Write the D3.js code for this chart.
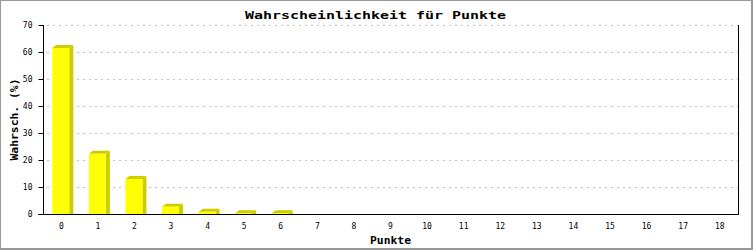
<!DOCTYPE html>
<html>
<head>
<meta charset="utf-8">
<script src="https://cdn.jsdelivr.net/npm/d3@7"></script>
<style>
html,body{margin:0;padding:0;background:#fff;}
svg{display:block;}
</style>
</head>
<body>
<svg id="chart" width="753" height="250"></svg>
<script>
const categories = ["0","1","2","3","4","5","6","7","8","9","10","11","12","13","14","15","16","17","18"];
const values = [61.5, 22.3, 13.0, 2.7, 0.8, 0.25, 0.25, 0, 0, 0, 0, 0, 0, 0, 0, 0, 0, 0, 0];
const yTicks = [0, 10, 20, 30, 40, 50, 60, 70];
const chartTitle = "Wahrscheinlichkeit für Punkte";
const xTitle = "Punkte";
const yTitle = "Wahrsch. (%)";

(function(){
const W = 753, H = 250;
const pLeft = 43, pRight = 738, pTop = 25, pBottom = 214;
const depthX = 4, depthY = 3;
const svg = d3.select("#chart");
const mono = "'DejaVu Sans Mono', 'Liberation Mono', monospace";

// frame
svg.append("rect").attr("x",0).attr("y",0).attr("width",W).attr("height",H).attr("fill","#999");
svg.append("rect").attr("x",1).attr("y",1).attr("width",W-3).attr("height",H-3).attr("fill","#fff");

const x = d3.scaleBand().domain(categories).range([pLeft, pRight]).paddingInner(0.535).paddingOuter(0.2675);
const y = d3.scaleLinear().domain([0, 70]).range([pBottom, pTop]);

// gridlines
svg.append("g").selectAll("line").data(yTicks.filter(t => t > 0)).join("line")
  .attr("x1", pLeft + 4).attr("x2", pRight)
  .attr("y1", d => Math.round(y(d)) + 0.5).attr("y2", d => Math.round(y(d)) + 0.5)
  .attr("stroke", "#c0c0c0").attr("stroke-width", 1).attr("stroke-dasharray", "2,4");

// bars
const bars = svg.append("g");
categories.forEach((c, i) => {
  const v = values[i];
  if (v <= 0) return;
  const x0 = x(c) - 0.5, w = x.bandwidth();
  const yt = y(v), yb = y(0);
  bars.append("polygon")
    .attr("points", [[x0+w, yt],[x0+w+depthX, yt-depthY],[x0+w+depthX, yb],[x0+w, yb]].map(p=>p.join(",")).join(" "))
    .attr("fill", "#cccc00");
  bars.append("polygon")
    .attr("points", [[x0, yt],[x0+depthX, yt-depthY],[x0+w+depthX, yt-depthY],[x0+w, yt]].map(p=>p.join(",")).join(" "))
    .attr("fill", "#cccc00");
  bars.append("rect").attr("x", x0).attr("y", yt).attr("width", w).attr("height", yb - yt)
    .attr("fill", "#ffff00");
});

// y axis
const yAxis = d3.axisLeft(y).tickValues(yTicks).tickSize(5).tickPadding(6).tickFormat(d3.format("d"));
const gy = svg.append("g").attr("transform", `translate(${pLeft + 0.5},0)`).call(yAxis);
gy.select(".domain").attr("d", `M0,${pTop}V${pBottom}`).attr("stroke", "#000");
gy.selectAll(".tick line").attr("stroke", "#000");
gy.selectAll(".tick text").attr("font-family", mono).attr("font-size", 8).attr("fill", "#000");

// x axis
const xAxis = d3.axisBottom(x).tickSize(0).tickPadding(9);
const gx = svg.append("g").attr("transform", `translate(0,${pBottom + 0.5})`).call(xAxis);
gx.select(".domain").attr("d", `M${pLeft - 5},0H${pRight}`).attr("stroke", "#000");
gx.selectAll(".tick text").attr("font-family", mono).attr("font-size", 8).attr("fill", "#000");

// right border
svg.append("line").attr("x1", pRight + 0.5).attr("x2", pRight + 0.5).attr("y1", pTop).attr("y2", pBottom + 1)
  .attr("stroke", "#000");

// titles
svg.append("text").attr("x", 375.5).attr("y", 18.5).attr("text-anchor", "middle")
  .attr("font-family", mono).attr("font-weight", "bold").attr("font-size", 11)
  .attr("textLength", 261).attr("lengthAdjust", "spacingAndGlyphs").text(chartTitle);
svg.append("text").attr("x", (pLeft + pRight) / 2).attr("y", 243.5).attr("text-anchor", "middle")
  .attr("font-family", mono).attr("font-weight", "bold").attr("font-size", 11)
  .attr("textLength", 41).attr("lengthAdjust", "spacingAndGlyphs").text(xTitle);
svg.append("text").attr("transform", `translate(17.5,${(pTop + pBottom) / 2}) rotate(-90)`).attr("text-anchor", "middle")
  .attr("font-family", mono).attr("font-weight", "bold").attr("font-size", 11)
  .attr("textLength", 82).attr("lengthAdjust", "spacingAndGlyphs").text(yTitle);
})();
</script>
</body>
</html>
